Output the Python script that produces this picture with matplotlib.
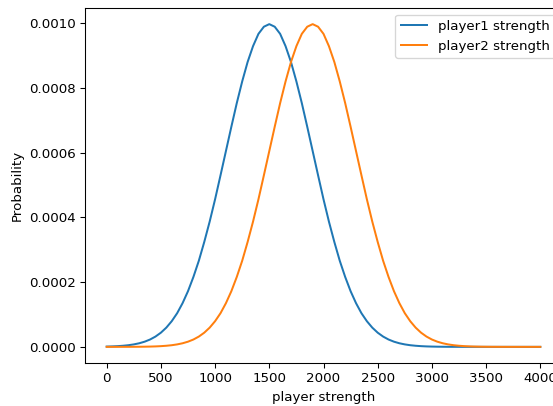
import matplotlib
matplotlib.use("Agg")
import matplotlib.pyplot as plt

x_strength = list(range(0, 4001, 50))

player1_prob = [
    0.00000088, 0.0000014, 0.0000022, 0.0000034, 0.0000051, 0.0000076, 0.0000111,
    0.0000160, 0.0000227, 0.0000318, 0.0000438, 0.0000594, 0.0000793, 0.000104,
    0.000135, 0.000172, 0.000216, 0.000266, 0.000324, 0.000387, 0.000456, 0.000530,
    0.000605, 0.000680, 0.000753, 0.000820, 0.000880, 0.000929, 0.000967, 0.000989,
    0.000997,
    0.000989, 0.000967, 0.000929, 0.000880, 0.000820, 0.000753, 0.000680, 0.000605,
    0.000530, 0.000456,
    0.000387, 0.000324, 0.000266, 0.000216, 0.000172, 0.000135, 0.000104, 0.0000793,
    0.0000594, 0.0000438,
    0.0000318, 0.0000227, 0.0000160, 0.0000111, 0.0000076, 0.0000051, 0.0000034,
    0.0000022, 0.0000014, 0.00000088,
    0.00000055, 0.00000033, 0.0000002, 0.00000012, 0.00000007, 0.00000004,
    0.00000002, 0.00000001, 0.0, 0.0,
    0.0, 0.0, 0.0, 0.0, 0.0, 0.0, 0.0, 0.0, 0.0, 0.0,
]

player2_prob = [
    0.00000001, 0.00000002, 0.00000004, 0.00000007, 0.00000012, 0.0000002,
    0.00000033, 0.00000055, 0.00000088,
    0.0000014, 0.0000022, 0.0000034, 0.0000051, 0.0000076, 0.0000111, 0.0000160,
    0.0000227, 0.0000318, 0.0000438,
    0.0000594, 0.0000793, 0.000104, 0.000135, 0.000172, 0.000216, 0.000266,
    0.000324, 0.000387, 0.000456,
    0.000530, 0.000605, 0.000680, 0.000753, 0.000820, 0.000880, 0.000929,
    0.000967, 0.000989, 0.000997,
    0.000989, 0.000967, 0.000929, 0.000880, 0.000820, 0.000753, 0.000680, 0.000605,
    0.000530, 0.000456,
    0.000387, 0.000324, 0.000266, 0.000216, 0.000172, 0.000135, 0.000104, 0.0000793,
    0.0000594, 0.0000438,
    0.0000318, 0.0000227, 0.0000160, 0.0000111, 0.0000076, 0.0000051, 0.0000034,
    0.0000022, 0.0000014, 0.00000088,
    0.00000055, 0.00000033, 0.0000002, 0.00000012, 0.00000007, 0.00000004,
    0.00000002, 0.00000001, 0.0, 0.0,
    0.0, 0.0,
]

W, H = 553, 406
DPI = 96
fig = plt.figure(figsize=(W / DPI, H / DPI), dpi=DPI)
ax = fig.add_axes([85 / W, 1 - 363 / H, 477 / W, 355 / H])
ax.plot(x_strength, player1_prob, label="player1 strength")
ax.plot(x_strength, player2_prob, label="player2 strength")
ax.set_xlabel("player strength")
ax.set_ylabel("Probability")
ax.legend(loc="upper right")
fig.savefig("out.png", dpi=DPI)
